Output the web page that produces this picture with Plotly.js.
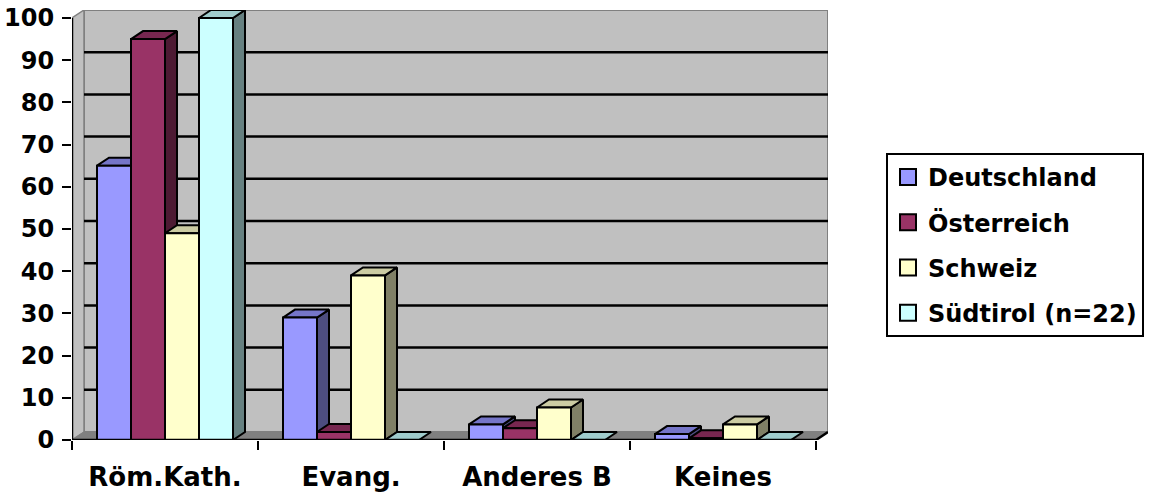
<!DOCTYPE html>
<html>
<head>
<meta charset="utf-8">
<script src="https://cdn.plot.ly/plotly-3.0.1.min.js"></script>
<style>html,body{margin:0;padding:0;background:#fff;}#chart{width:1162px;height:493px;}</style>
</head>
<body>
<div id="chart"></div>
<script>
// ---- data ----
const categories = ['Röm.Kath.', 'Evang.', 'Anderes B', 'Keines'];
const seriesNames = ['Deutschland', 'Österreich', 'Schweiz', 'Südtirol (n=22)'];
const deutschland = [65, 29, 3.7, 1.4];
const oesterreich = [95, 1.9, 2.8, 0.4];
const schweiz = [49, 39, 7.7, 3.7];
const suedtirol = [100, 0, 0, 0];
const yTicks = [0, 10, 20, 30, 40, 50, 60, 70, 80, 90, 100];

// ---- styling ----
const series = [deutschland, oesterreich, schweiz, suedtirol];
const frontColors = ['#9999FF', '#993366', '#FFFFCC', '#CCFFFF'];
const topColors = ['#7575C8', '#772750', '#CCCCA3', '#A0CCCC'];
const sideColors = ['#4D4D80', '#4D1A33', '#808066', '#668080'];

const W = 1162, H = 493;
const M = {l: 72, r: 334, t: 10, b: 53};
const DX = 12 / 186;      // depth offset in x units
const DY = 8 / 4.22;      // depth offset in y units
const BW = 34 / 186;      // bar width in x units
const YMAX = 100;
const FONT = {family: 'DejaVu Sans, Arial, sans-serif', size: 24, color: '#000', weight: 'bold'};
const XFONT = {family: 'DejaVu Sans, Arial, sans-serif', size: 26, color: '#000', weight: 'bold'};

const traces = [];
const edge = {color: '#000', width: 2};
function poly(xs, ys, fill) {
  traces.push({
    type: 'scatter', mode: 'lines', x: xs.concat([xs[0]]), y: ys.concat([ys[0]]),
    fill: 'toself', fillcolor: fill, line: edge, showlegend: false, hoverinfo: 'skip'
  });
}

categories.forEach((cat, c) => {
  series.forEach((vals, j) => {
    const v = vals[c];
    const x0 = c - 2 * BW + j * BW;
    const x1 = x0 + BW;
    // side face
    if (v > 0) poly([x1, x1 + DX, x1 + DX, x1], [0, DY, v + DY, v], sideColors[j]);
    // top face
    poly([x0, x0 + DX, x1 + DX, x1], [v, v + DY, v + DY, v], topColors[j]);
    // front face
    poly([x0, x1, x1, x0], [0, 0, v, v], frontColors[j]);
  });
});

// legend entries
seriesNames.forEach((name, j) => {
  traces.push({
    type: 'scatter', mode: 'markers', x: [null], y: [null], xaxis: 'x2', name: name,
    legendgroup: 'g' + j,
    marker: {symbol: 'square', size: 16, color: frontColors[j], line: {color: '#000', width: 2}}
  });
});

// wall, floor, side wall, gridlines
const shapes = [];
shapes.push({type: 'rect', layer: 'below', xref: 'x', yref: 'y', x0: -0.5 + DX, x1: 3.5 + DX, y0: DY, y1: YMAX + DY,
  fillcolor: '#C0C0C0', line: {color: '#808080', width: 2}});
shapes.push({type: 'path', layer: 'below', xref: 'x', yref: 'y',
  path: `M${-0.5},0 L${-0.5 + DX},${DY} L${-0.5 + DX},${YMAX + DY} L${-0.5},${YMAX} Z`,
  fillcolor: '#C0C0C0', line: {color: '#808080', width: 1.5}});
shapes.push({type: 'path', layer: 'below', xref: 'x', yref: 'y',
  path: `M${-0.5},0 L${3.5},0 L${3.5 + DX},${DY} L${-0.5 + DX},${DY} Z`,
  fillcolor: '#808080', line: {color: '#808080', width: 1}});
yTicks.forEach(t => {
  if (t > 0 && t < YMAX) {
    shapes.push({type: 'line', layer: 'below', xref: 'x', yref: 'y', x0: -0.5 + DX, x1: 3.5 + DX, y0: t + DY, y1: t + DY,
      line: {color: '#000', width: 2.5}});
  }
});
// axis lines
shapes.push({type: 'line', layer: 'above', xref: 'x', yref: 'y', x0: -0.5, x1: -0.5, y0: 0, y1: YMAX, line: {color: '#000', width: 2.5}});
shapes.push({type: 'line', layer: 'above', xref: 'x', yref: 'y', x0: -0.5, x1: 3.5, y0: 0, y1: 0, line: {color: '#000', width: 2.5}});
shapes.push({type: 'line', layer: 'above', xref: 'x', yref: 'y', x0: 3.5, x1: 3.5 + DX, y0: 0, y1: DY, line: {color: '#000', width: 2.5}});

const layout = {
  width: W, height: H,
  margin: M,
  paper_bgcolor: '#FFFFFF', plot_bgcolor: '#FFFFFF',
  showlegend: true,
  xaxis: {
    range: [-0.5, 3.5 + DX], showgrid: false, zeroline: false, showline: false,
    tickvals: [0, 1, 2, 3], ticktext: categories, ticks: '', tickfont: XFONT,
    ticklabelstandoff: 19, fixedrange: true
  },
  xaxis2: {
    overlaying: 'x', side: 'bottom', range: [-0.5, 3.5 + DX], showgrid: false, zeroline: false, showline: false,
    tickvals: [-0.5, 0.5, 1.5, 2.5, 3.5], showticklabels: false, ticks: 'outside', ticklen: 9, tickwidth: 2, tickcolor: '#000'
  },
  yaxis: {
    range: [0, YMAX + DY], showgrid: false, zeroline: false, showline: false,
    tickvals: yTicks, ticks: 'outside', ticklen: 9, tickwidth: 2, tickcolor: '#000',
    tickfont: FONT, ticklabelstandoff: 3, fixedrange: true
  },
  legend: {
    x: (886 - M.l) / (W - M.l - M.r), y: (H - M.b - 153) / (H - M.t - M.b),
    xanchor: 'left', yanchor: 'top',
    bgcolor: '#FFFFFF', bordercolor: '#000', borderwidth: 2,
    font: FONT, tracegroupgap: 11, itemclick: false, itemdoubleclick: false
  },
  shapes: shapes
};

Plotly.newPlot('chart', traces, layout, {displayModeBar: false, staticPlot: true});
</script>
</body>
</html>
